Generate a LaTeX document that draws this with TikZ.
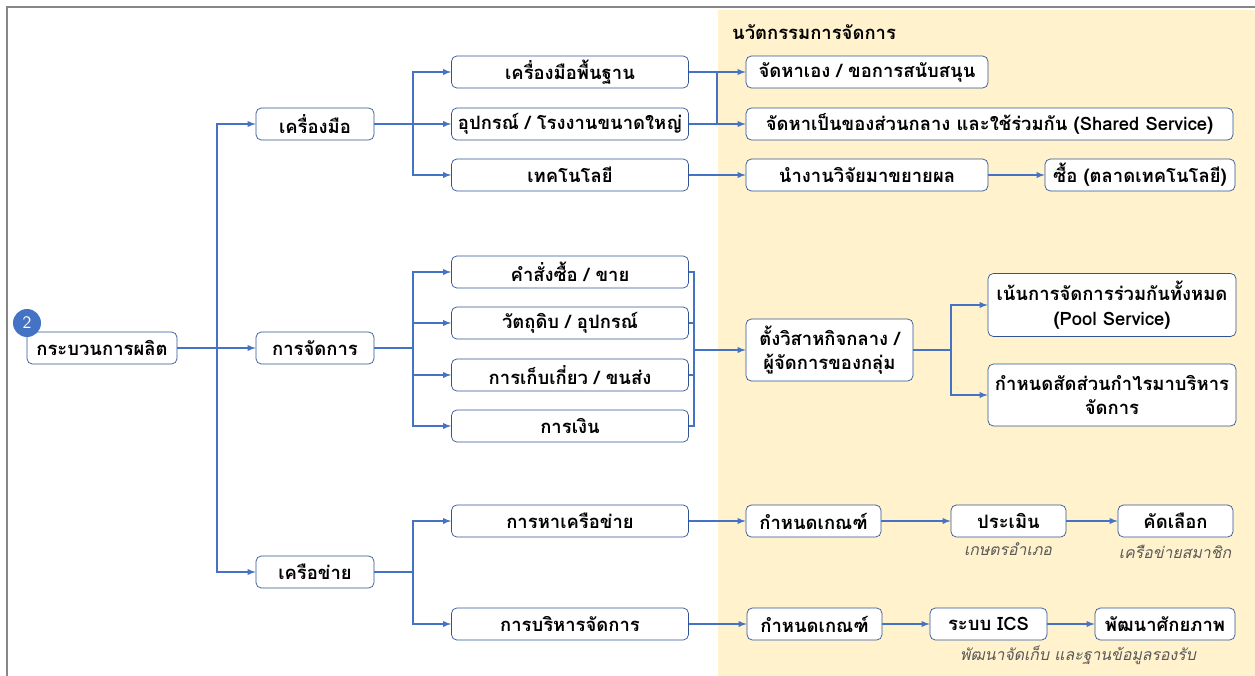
\documentclass[tikz,border=0pt]{standalone}
\usepackage{fontspec}
\newfontfamily\thaifont[Script=Thai, BoldFont={Loma Bold}, ItalicFont={Loma Oblique}]{Loma}
\usetikzlibrary{arrows}
\definecolor{lineblue}{HTML}{4472C4}
\definecolor{boxblue}{HTML}{2F5597}
\definecolor{bgyellow}{HTML}{FFF2CC}
\definecolor{framegray}{HTML}{878787}
\definecolor{notegray}{HTML}{595959}

\begin{document}
\begin{tikzpicture}[x=0.02cm, y=-0.02cm,
box/.style = {draw = boxblue, rounded corners = 3pt, fill = white, align = center,
  font = \thaifont\bfseries\fontsize{10.5}{14}\selectfont, inner sep = 1pt, minimum height = 0.64cm},
lvone/.style = {box, minimum width = 2.36cm},
lvtwo/.style = {box, minimum width = 4.74cm},
conn/.style = {-latex, lineblue, line width = 0.6pt},
link/.style = {lineblue, line width = 0.6pt},
note/.style = {font = \thaifont\itshape\fontsize{9}{11}\selectfont, text = notegray}]

\useasboundingbox (0,0) rectangle (1255,676);
\fill[bgyellow] (718,10) rectangle (1255,676);
\draw[framegray, line width = 1.2pt] (7,676) -- (7,7) -- (1255,7);

\node[font = \thaifont\bfseries\fontsize{10.5}{14}\selectfont, anchor = west] (title) at (726,32) {นวัตกรรมการจัดการ};

% Root and first level
\node[box, minimum width = 3.0cm] (root) at (102,348) {กระบวนการผลิต};
\node[circle, fill = lineblue, text = white, minimum size = 0.56cm, inner sep = 0pt,
  font = \sffamily\fontsize{10}{12}\selectfont] (num) at (27,323) {2};
\node[lvone] (tool) at (315,124) {เครื่องมือ};
\node[lvone] (mgmt) at (315,348) {การจัดการ};
\node[lvone] (net) at (315,572) {เครือข่าย};

% Second level
\node[lvtwo] (t1) at (570,72) {เครื่องมือพื้นฐาน};
\node[lvtwo] (t2) at (570,124) {อุปกรณ์ / โรงงานขนาดใหญ่};
\node[lvtwo] (t3) at (570,175) {เทคโนโลยี};
\node[lvtwo] (m1) at (570,272) {คำสั่งซื้อ / ขาย};
\node[lvtwo] (m2) at (570,323) {วัตถุดิบ / อุปกรณ์};
\node[lvtwo] (m3) at (570,375) {การเก็บเกี่ยว / ขนส่ง};
\node[lvtwo] (m4) at (570,426) {การเงิน};
\node[lvtwo] (n1) at (570,521) {การหาเครือข่าย};
\node[lvtwo] (n2) at (570,624) {การบริหารจัดการ};

% Innovation side
\node[box, minimum width = 4.84cm] (s1) at (867,72) {จัดหาเอง / ขอการสนับสนุน};
\node[box, minimum width = 9.74cm] (s2) at (989.5,124) {จัดหาเป็นของส่วนกลาง และใช้ร่วมกัน (Shared Service)};
\node[box, minimum width = 4.84cm] (s3) at (867,175) {นำงานวิจัยมาขยายผล};
\node[box, minimum width = 3.8cm] (s4) at (1140,175) {ซื้อ (ตลาดเทคโนโลยี)};
\node[box, minimum width = 3.34cm, minimum height = 1.24cm] (hub) at (829.5,350) {ตั้งวิสาหกิจกลาง /\\ผู้จัดการของกลุ่ม};
\node[box, minimum width = 4.96cm, minimum height = 1.26cm] (p1) at (1112,305) {เน้นการจัดการร่วมกันทั้งหมด\\(Pool Service)};
\node[box, minimum width = 4.96cm, minimum height = 1.24cm] (p2) at (1112,395) {กำหนดสัดส่วนกำไรมาบริหาร\\จัดการ};
\node[box, minimum width = 2.7cm] (c1) at (813.5,521) {กำหนดเกณฑ์};
\node[box, minimum width = 2.3cm] (c2) at (1008.5,521) {ประเมิน};
\node[box, minimum width = 2.3cm] (c3) at (1175.5,521) {คัดเลือก};
\node[box, minimum width = 2.7cm] (d1) at (814.5,624) {กำหนดเกณฑ์};
\node[box, minimum width = 2.34cm] (d2) at (988.5,624) {ระบบ ICS};
\node[box, minimum width = 2.8cm] (d3) at (1165,624) {พัฒนาศักยภาพ};
\node[note] (c2note) at (1008,549) {เกษตรอำเภอ};
\node[note] (c3note) at (1175,552) {เครือข่ายสมาชิก};
\node[note] (d3note) at (1078,655) {พัฒนาจัดเก็บ และฐานข้อมูลรองรับ};

% Branch points
\coordinate (j0) at (217,348);
\coordinate (jt) at (413,124);
\coordinate (jm) at (413,348);
\coordinate (jn) at (413,572);
\coordinate (js) at (717,72);
\coordinate (jc) at (694,350);
\coordinate (jp) at (951,350);

% Connect boxes
\draw[link] (root) -- (j0);
\draw[conn] (j0) |- (tool);
\draw[conn] (j0) -- (mgmt);
\draw[conn] (j0) |- (net);

\draw[link] (tool) -- (jt);
\draw[conn] (jt) |- (t1);
\draw[conn] (jt) -- (t2);
\draw[conn] (jt) |- (t3);
\draw[link] (mgmt) -- (jm);
\foreach \m in {m1, m2, m3, m4}
  \draw[conn] (jm) |- (\m);
\draw[link] (net) -- (jn);
\draw[conn] (jn) |- (n1);
\draw[conn] (jn) |- (n2);

\draw[conn] (t1) -- (s1);
\draw[conn] (t2) -- (s2);
\draw[link] (js) -- (js |- t2);
\draw[conn] (t3) -- (s3);
\draw[conn] (s3) -- (s4);

\foreach \m in {m1, m2, m3, m4}
  \draw[link] (\m.east) -| (jc);
\draw[conn] (jc) -- (hub);
\draw[link] (hub) -- (jp);
\draw[conn] (jp) |- (p1);
\draw[conn] (jp) |- (p2);

\draw[conn] (n1) -- (c1);
\draw[conn] (c1) -- (c2);
\draw[conn] (c2) -- (c3);
\draw[conn] (n2) -- (d1);
\draw[conn] (d1) -- (d2);
\draw[conn] (d2) -- (d3);

\end{tikzpicture}
\end{document}
